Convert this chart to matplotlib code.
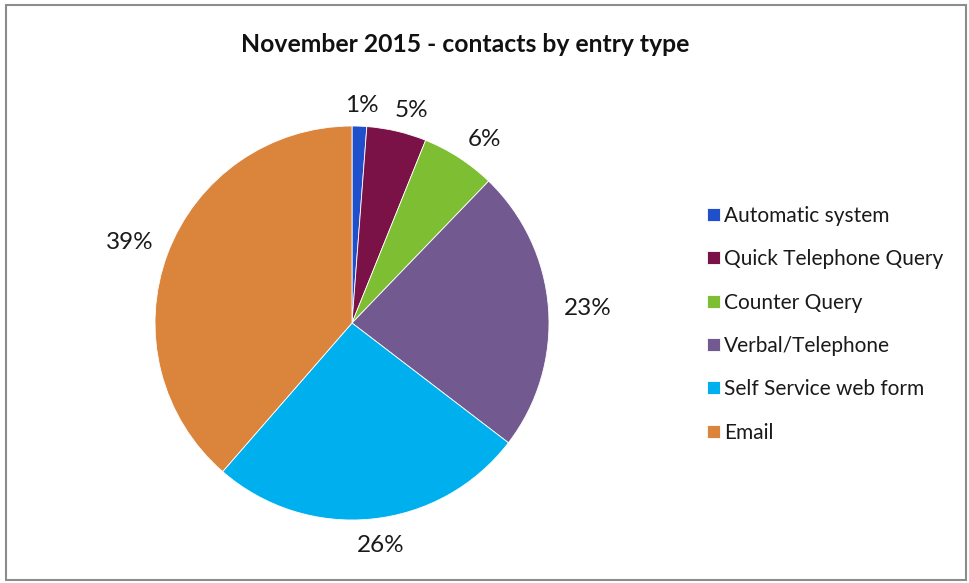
import math
import matplotlib
matplotlib.use("Agg")
import matplotlib.pyplot as plt
from matplotlib.patches import Rectangle

categories = ["Automatic system", "Quick Telephone Query", "Counter Query",
              "Verbal/Telephone", "Self Service web form", "Email"]
shares = [1.2, 4.9, 6.1, 23.2, 26.0, 38.6]
colors = ["#1F4FCB", "#7A1248", "#7DBE33", "#725A90", "#00B0EE", "#DB843C"]
title = "November 2015 - contacts by entry type"

plt.rcParams['font.family'] = ['Lato', 'DejaVu Sans']

W, H = 969, 583
fig = plt.figure(figsize=(W / 100, H / 100), dpi=100)
fig.patch.set_facecolor("white")

# pie axes: center (352,323) px, radius 197 px
cx, cy, r = 352, 323, 197
ax = fig.add_axes([(cx - r) / W, (H - cy - r) / H, 2 * r / W, 2 * r / H])
label_fs = 17.5
wedges, texts, autotexts = ax.pie(
    shares, colors=colors, startangle=90, counterclock=False,
    autopct=lambda p: f"{p:.0f}%", pctdistance=1.18,
    wedgeprops=dict(linewidth=0.6, edgecolor="white"),
    textprops=dict(fontsize=label_fs, color="#1a1a1a"))
ax.set_xlim(-1, 1)
ax.set_ylim(-1, 1)
ax.set_aspect("equal")
ax.axis("off")

# place outside-end labels like Excel: anchor just beyond the rim, box pushed outward
fig.canvas.draw()
renderer = fig.canvas.get_renderer()
gap = 15.0
half_h = 0.72 * label_fs * 100 / 72 / 2
k = 3.0
for w, t in zip(wedges, autotexts):
    th = math.radians((w.theta1 + w.theta2) / 2)
    dx, dy = math.cos(th), math.sin(th)
    bb = t.get_window_extent(renderer)
    px = (r + gap) * dx + bb.width / 2 * max(-1, min(1, k * dx))
    py = (r + gap) * dy + half_h * max(-1, min(1, k * dy)) - 3
    t.set_position((px / r, py / r))

fig.text(465 / W, 1 - 45 / H, title, ha="center", va="center",
         fontsize=17.8, fontweight="bold", color="#111111")

leg = fig.legend(wedges, categories, loc="upper left",
                 bbox_to_anchor=(707 / W, 1 - 206 / H),
                 frameon=False, fontsize=15, handlelength=0.62,
                 handleheight=0.58, handletextpad=0.2, labelspacing=1.12,
                 borderpad=0, borderaxespad=0)
for t in leg.get_texts():
    t.set_color("#1a1a1a")

fig.patches.append(Rectangle((6 / W, 3 / H), 960 / W, 575 / H,
                             transform=fig.transFigure, fill=False,
                             edgecolor="#8c8c8c", linewidth=1.5))

fig.savefig("out.png", dpi=100)
